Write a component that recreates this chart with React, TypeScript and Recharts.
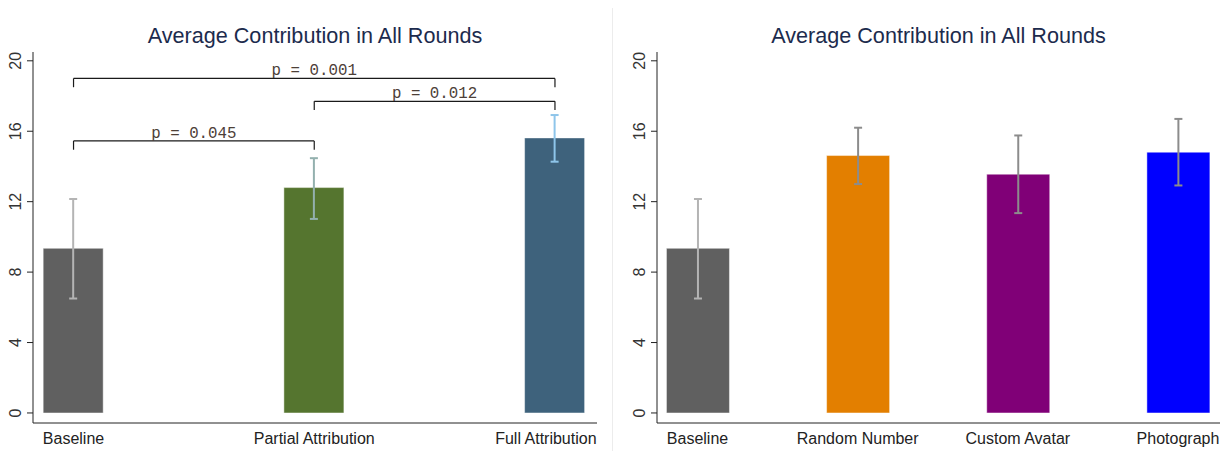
import React from "react";
import {
  BarChart,
  Bar,
  XAxis,
  YAxis,
  Cell,
  ErrorBar,
  ReferenceLine,
} from "recharts";

const FONT = "'Liberation Sans', Arial, sans-serif";
const MONO = "'Liberation Mono', 'Courier New', monospace";

// treatments in the first panel
const leftCategories = ["Baseline", "Partial Attribution", "Full Attribution"];
const leftMeans = [9.35, 12.8, 15.62];
const leftLow = [6.5, 11.02, 14.27];
const leftHigh = [12.15, 14.47, 16.92];
const leftColors = ["#606060", "#55752f", "#3e627c"];
const leftErrColors = ["#b4b4b4", "#93b0ae", "#8ec5ea"];

// pairwise comparisons: [from, to, bracket top, leg bottom, label]
const leftBrackets: [number, number, number, number, string][] = [
  [0, 2, 19.0, 18.5, "p = 0.001"],
  [1, 2, 17.7, 17.2, "p = 0.012"],
  [0, 1, 15.45, 14.95, "p = 0.045"],
];

// treatments in the second panel
const rightCategories = ["Baseline", "Random Number", "Custom Avatar", "Photograph"];
const rightMeans = [9.35, 14.62, 13.56, 14.81];
const rightLow = [6.5, 13.0, 11.35, 12.92];
const rightHigh = [12.15, 16.2, 15.76, 16.7];
const rightColors = ["#606060", "#e37f00", "#800077", "#0000ff"];
const rightErrColors = ["#b4b4b4", "#8c8c8c", "#8c8c8c", "#8c8c8c"];

const yTicks = [0, 4, 8, 12, 16, 20];
const title = "Average Contribution in All Rounds";

let measureCtx: CanvasRenderingContext2D | null = null;
function textWidth(s: string, font: string) {
  if (!measureCtx) measureCtx = document.createElement("canvas").getContext("2d");
  if (!measureCtx) return s.length * 8;
  measureCtx.font = font;
  return measureCtx.measureText(s).width;
}

function YTick(props: any) {
  const { x, y, payload } = props;
  return (
    <text
      x={x}
      y={y}
      transform={`rotate(-90 ${x} ${y})`}
      textAnchor="middle"
      fontSize={16}
      fontFamily={FONT}
      fill="#333"
    >
      {payload.value}
    </text>
  );
}

function makeXTick(cats: string[], rightEdge: number) {
  return function XTick(props: any) {
    const { x, y, payload } = props;
    const label = cats[payload.value] ?? "";
    const w = textWidth(label, `16px ${FONT}`);
    // keep the label inside the plot area
    const cx = Math.min(x, rightEdge - w / 2);
    return (
      <text
        x={cx}
        y={y}
        dy={11.5}
        textAnchor="middle"
        fontSize={16}
        fontFamily={FONT}
        fill="#222"
      >
        {label}
      </text>
    );
  };
}

function buildRows(means: number[], low: number[], high: number[]) {
  return means.map((m, i) => ({
    idx: i,
    mean: m,
    err: [m - low[i], high[i] - m],
  }));
}

type PanelProps = {
  cats: string[];
  means: number[];
  low: number[];
  high: number[];
  colors: string[];
  errColors: string[];
  left: number;
  width: number;
  yAxisWidth: number;
  marginRight: number;
  barSize: number;
  brackets?: [number, number, number, number, string][];
};

function Panel(p: PanelProps) {
  const rows = buildRows(p.means, p.low, p.high);
  const n = p.cats.length;
  const plotLeft = p.yAxisWidth;
  const plotRight = p.width - p.marginRight;
  const step = (plotRight - plotLeft - 83) / (n - 1);
  const padL = 40.5 / step;
  const padR = 42 / step;
  const XTick = makeXTick(p.cats, plotRight);
  return (
    <div style={{ position: "absolute", left: p.left, top: 0, width: p.width, height: 451 }}>
      <div
        style={{
          position: "absolute",
          left: plotLeft,
          width: plotRight - plotLeft,
          top: 25,
          textAlign: "center",
          fontFamily: FONT,
          fontSize: 21.6,
          lineHeight: "21px",
          color: "#1c2b4d",
          whiteSpace: "nowrap",
        }}
      >
        {title}
      </div>
      <BarChart
        width={p.width}
        height={451}
        data={rows}
        margin={{ top: 52, right: p.marginRight, left: 0, bottom: 0 }}
      >
        <XAxis
          dataKey="idx"
          type="number"
          domain={[-padL, n - 1 + padR]}
          ticks={p.cats.map((_, i) => i)}
          allowDataOverflow
          height={28}
          tickSize={0}
          tickMargin={9}
          stroke="#222"
          tick={<XTick />}
        />
        <YAxis
          type="number"
          domain={[-0.57, 20.5]}
          ticks={yTicks}
          allowDataOverflow
          width={p.yAxisWidth}
          tickSize={6}
          tickMargin={6}
          stroke="#222"
          tick={<YTick />}
        />
        <Bar
          dataKey="mean"
          barSize={p.barSize}
          isAnimationActive={false}
          stroke="rgba(255,255,255,0.45)"
          strokeWidth={1}
        >
          {rows.map((_, i) => (
            <Cell key={i} fill={p.colors[i]} />
          ))}
          {rows.map((_, i) => (
            <ErrorBar
              key={`e${i}`}
              dataKey={(d: any) => (d.idx === i ? d.err : null)}
              stroke={p.errColors[i]}
              strokeWidth={2}
              width={4}
              direction="y"
            />
          ))}
        </Bar>
        {(p.brackets ?? []).flatMap(([a, b, top, leg, label], k) => [
          <ReferenceLine
            key={`h${k}`}
            segment={[
              { x: a, y: top },
              { x: b, y: top },
            ]}
            stroke="#1a1a1a"
            strokeWidth={1.2}
            ifOverflow="visible"
            label={{
              value: label,
              position: "top",
              offset: 3,
              fill: "#4d4038",
              fontSize: 15.8,
              fontFamily: MONO,
            }}
          />,
          <ReferenceLine
            key={`l${k}`}
            segment={[
              { x: a, y: leg },
              { x: a, y: top },
            ]}
            stroke="#1a1a1a"
            strokeWidth={1.2}
            ifOverflow="visible"
          />,
          <ReferenceLine
            key={`r${k}`}
            segment={[
              { x: b, y: leg },
              { x: b, y: top },
            ]}
            stroke="#1a1a1a"
            strokeWidth={1.2}
            ifOverflow="visible"
          />,
        ])}
      </BarChart>
    </div>
  );
}

export default function App() {
  return (
    <div
      style={{
        position: "absolute",
        left: 0,
        top: 0,
        width: 1231,
        height: 451,
        background: "#fff",
        overflow: "hidden",
      }}
    >
      <Panel
        cats={leftCategories}
        means={leftMeans}
        low={leftLow}
        high={leftHigh}
        colors={leftColors}
        errColors={leftErrColors}
        left={0}
        width={612}
        yAxisWidth={33}
        marginRight={15}
        barSize={60}
        brackets={leftBrackets}
      />
      <div
        style={{
          position: "absolute",
          left: 612,
          top: 8,
          width: 1,
          height: 443,
          background: "#ececec",
        }}
      />
      <Panel
        cats={rightCategories}
        means={rightMeans}
        low={rightLow}
        high={rightHigh}
        colors={rightColors}
        errColors={rightErrColors}
        left={612}
        width={619}
        yAxisWidth={45}
        marginRight={11}
        barSize={63}
      />
    </div>
  );
}
